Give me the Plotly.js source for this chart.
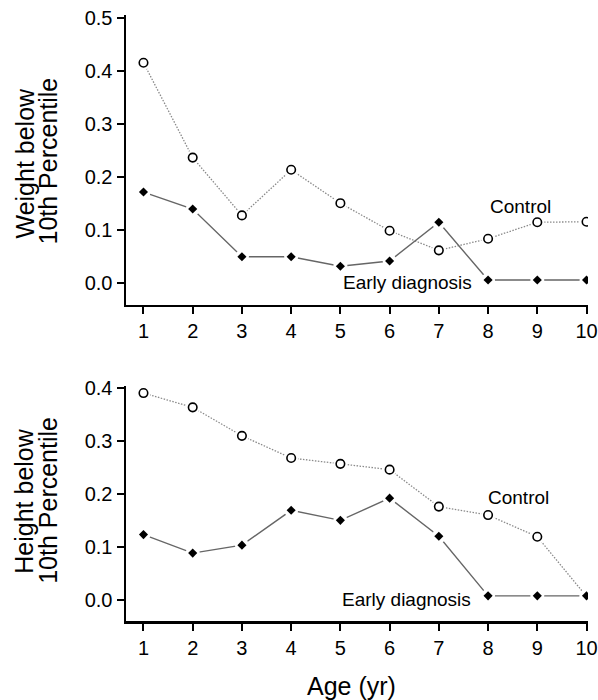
<!DOCTYPE html>
<html>
<head>
<meta charset="utf-8">
<script src="https://cdn.plot.ly/plotly-3.0.1.min.js"></script>
<style>html,body{margin:0;padding:0;background:#fff;}#chart{width:598px;height:700px;}</style>
</head>
<body>
<div id="chart"></div>
<script>
const ages = [1, 2, 3, 4, 5, 6, 7, 8, 9, 10];
const weightControl = [0.416, 0.237, 0.128, 0.214, 0.151, 0.099, 0.062, 0.084, 0.115, 0.116];
const weightEarly   = [0.172, 0.140, 0.050, 0.050, 0.032, 0.042, 0.115, 0.006, 0.006, 0.006];
const heightControl = [0.391, 0.364, 0.310, 0.268, 0.257, 0.246, 0.176, 0.160, 0.119, 0.006];
const heightEarly   = [0.123, 0.088, 0.103, 0.169, 0.150, 0.192, 0.120, 0.007, 0.007, 0.007];
const weightTicks = [0, 0.1, 0.2, 0.3, 0.4, 0.5];
const heightTicks = [0, 0.1, 0.2, 0.3, 0.4];
const xTicks = ages;

const FONT = 'Liberation Sans, Arial, Helvetica, sans-serif';

function panelTraces(ctrl, early, xa, ya) {
  return [
    {x: ages, y: ctrl, xaxis: xa, yaxis: ya, mode: 'lines', hoverinfo: 'skip',
     line: {color: '#8a8a8a', width: 1.3, dash: '1.5px,1.5px'}},
    {x: ages, y: early, xaxis: xa, yaxis: ya, mode: 'lines', hoverinfo: 'skip',
     line: {color: '#666666', width: 1.4}},
    {x: ages, y: ctrl, xaxis: xa, yaxis: ya, mode: 'markers', hoverinfo: 'skip',
     marker: {symbol: 'circle', size: 14, color: '#fff', line: {width: 0}}},
    {x: ages, y: ctrl, xaxis: xa, yaxis: ya, mode: 'markers',
     marker: {symbol: 'circle-open', size: 8.5, color: '#000', line: {width: 1.6, color: '#000'}}},
    {x: ages, y: early, xaxis: xa, yaxis: ya, mode: 'markers', hoverinfo: 'skip',
     marker: {symbol: 'circle', size: 14, color: '#fff', line: {width: 0}}},
    {x: ages, y: early, xaxis: xa, yaxis: ya, mode: 'markers',
     marker: {symbol: 'diamond', size: 7, color: '#000', line: {width: 0}}}
  ];
}

const data = [].concat(
  panelTraces(weightControl, weightEarly, 'x', 'y'),
  panelTraces(heightControl, heightEarly, 'x2', 'y2')
);

const xaxisBase = {
  range: [0.645, 10.03], tickvals: xTicks, ticktext: xTicks.map(String),
  showline: true, linecolor: '#000', linewidth: 2.5, mirror: false,
  ticks: 'outside', ticklen: 7, tickwidth: 2, tickcolor: '#000',
  showgrid: false, zeroline: false, tickfont: {size: 20, color: '#000', family: FONT}
};
const yaxisBase = {
  showline: true, linecolor: '#000', linewidth: 2.5,
  ticks: 'outside', ticklen: 7, tickwidth: 2, tickcolor: '#000',
  showgrid: false, zeroline: false, tickfont: {size: 20, color: '#000', family: FONT}
};

const annFont = {size: 19, color: '#000', family: FONT};
const titleFont = {size: 25, color: '#000', family: FONT};

const layout = {
  width: 598, height: 700,
  margin: {l: 126, r: 10, t: 15, b: 79},
  paper_bgcolor: '#fff', plot_bgcolor: '#fff',
  showlegend: false,
  font: {family: FONT, color: '#000'},
  xaxis: Object.assign({}, xaxisBase, {anchor: 'y', domain: [0, 1]}),
  yaxis: Object.assign({}, yaxisBase, {anchor: 'x', domain: [0.5215, 1], range: [-0.041, 0.506],
    tickvals: weightTicks, ticktext: weightTicks.map(v => v.toFixed(1))}),
  xaxis2: Object.assign({}, xaxisBase, {anchor: 'y2', domain: [0, 1]}),
  yaxis2: Object.assign({}, yaxisBase, {anchor: 'x2', domain: [0, 0.3878], range: [-0.0406, 0.4044],
    tickvals: heightTicks, ticktext: heightTicks.map(v => v.toFixed(1))}),
  annotations: [
    {xref: 'x', yref: 'y', x: 8.65, y: 0.145, text: 'Control', showarrow: false, font: annFont, xanchor: 'center', yanchor: 'middle'},
    {xref: 'x', yref: 'y', x: 6.37, y: 0.0015, text: 'Early diagnosis', showarrow: false, font: annFont, xanchor: 'center', yanchor: 'middle'},
    {xref: 'x2', yref: 'y2', x: 8.614, y: 0.1926, text: 'Control', showarrow: false, font: annFont, xanchor: 'center', yanchor: 'middle'},
    {xref: 'x2', yref: 'y2', x: 6.347, y: 0.0, text: 'Early diagnosis', showarrow: false, font: annFont, xanchor: 'center', yanchor: 'middle'},
    {xref: 'paper', yref: 'paper', x: (24 - 126) / 462, y: (621 - 163.5) / 606, text: 'Weight below', textangle: -90, showarrow: false, font: titleFont, xanchor: 'center', yanchor: 'middle'},
    {xref: 'paper', yref: 'paper', x: (48 - 126) / 462, y: (621 - 161.5) / 606, text: '10th Percentile', textangle: -90, showarrow: false, font: titleFont, xanchor: 'center', yanchor: 'middle'},
    {xref: 'paper', yref: 'paper', x: (24 - 126) / 462, y: (621 - 501.7) / 606, text: 'Height below', textangle: -90, showarrow: false, font: titleFont, xanchor: 'center', yanchor: 'middle'},
    {xref: 'paper', yref: 'paper', x: (48 - 126) / 462, y: (621 - 500.8) / 606, text: '10th Percentile', textangle: -90, showarrow: false, font: titleFont, xanchor: 'center', yanchor: 'middle'},
    {xref: 'paper', yref: 'paper', x: (351.7 - 126) / 462, y: (621 - 686) / 606, text: 'Age (yr)', showarrow: false, font: titleFont, xanchor: 'center', yanchor: 'middle'}
  ]
};

Plotly.newPlot('chart', data, layout, {displayModeBar: false, staticPlot: true});
</script>
</body>
</html>
